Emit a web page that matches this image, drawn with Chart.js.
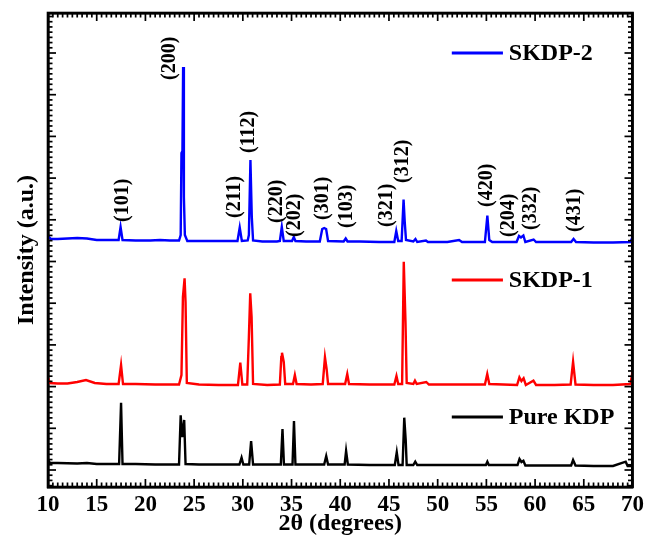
<!DOCTYPE html>
<html>
<head>
<meta charset="utf-8">
<script src="https://cdn.jsdelivr.net/npm/chart.js@4.4.1/dist/chart.umd.min.js"></script>
<style>
html,body{margin:0;padding:0;background:#fff;}
#c{display:block;}
</style>
</head>
<body>
<canvas id="c" width="648" height="539" style="width:648px;height:539px"></canvas>
<script>
// ---- Data (2θ in degrees, intensity in arbitrary units, stacked offsets as plotted) ----
const skdp2X = [10.0,10.3,11,12,13,14,15,16.5,17.25,17.45,17.65,19,20.5,21.5,22.5,23.45,23.62,23.7,23.8,23.87,23.95,24.05,24.3,25.5,27,28.5,29.45,29.68,29.9,30.5,30.62,30.78,30.92,31.05,32,33.5,33.8,34.0,34.2,35.05,35.23,35.4,36.5,37.9,38.15,38.35,38.55,38.75,40.35,40.56,40.75,42,44,45.55,45.75,45.95,46.3,46.5,46.62,46.75,47.5,47.72,47.9,48.8,49,51,52.2,52.5,54.85,55.1,55.3,55.6,58.1,58.35,58.55,58.8,59.0,59.85,60.1,62,63.7,63.95,64.2,66,68,69.8,70];
const skdp2Y = [251,248,248,248.5,249,248.5,247,247,247,260,247,246.5,246.5,247,246.5,246.5,252,334,336,420,290,252,246,246,246,246,246,259.5,246,246.5,252,327,270,246.5,245.5,245.5,246,260,246,246,250,246,245.5,245.5,258,259,258,246,245.5,248.5,245.5,245.5,245,245,256,246,246,287.5,265,247,245.5,248,245,246.5,245,245,247,245,245,271.5,247,245,245,251,249.5,251.5,245,247.5,245,245,245,248,245,244.5,244.5,245,250];

const skdp1X = [10.0,10.2,11,12,13,13.9,14.8,16,17.25,17.5,17.7,19,21,23.45,23.7,23.85,24.02,24.12,24.25,25.5,27.5,29.5,29.74,29.95,30.45,30.62,30.76,30.9,31.05,32.5,33.8,33.95,34.02,34.2,34.35,35.15,35.34,35.52,37,38.2,38.43,38.6,38.75,40.5,40.72,40.9,43,45.55,45.77,45.95,46.35,46.52,46.7,46.82,47.5,47.67,47.85,48.83,49.1,52,54.85,55.09,55.3,58.15,58.39,58.6,58.82,59.05,59.83,60.1,62,63.65,63.9,64.15,66,68,69.8,70];
const skdp1Y = [109,104,103.5,103.5,105,107,104,103,103,122,103,103,102.5,102.5,112,190,208.7,185,104,102.5,102,102,124.3,102.5,102.5,150,193.7,170,103,102,102.5,130,134.3,125,103,103,112,103,102.5,103,129.7,118,103,103,113,103,102.5,102.5,111,103,103,225.3,163.7,104,103,106.3,103,105,102.5,102.5,102.5,113,103,102,109.7,106,108.7,102,106.3,102,102,102.5,125.3,102.5,102,102,103,115.3];

const pureX = [10.0,10.2,11,13,14,15,17.3,17.5,17.65,19,21,23.45,23.62,23.78,23.98,24.12,25.5,27.5,29.65,29.87,30.05,30.65,30.85,31.05,32.5,33.9,34.07,34.22,35.1,35.25,35.4,37,38.35,38.56,38.75,40.45,40.6,40.78,43,45.6,45.8,45.98,46.4,46.57,46.72,46.82,47.5,47.7,47.9,50,54.95,55.1,55.25,58.2,58.4,58.6,58.8,59.0,61,63.7,63.9,64.15,66,68,69.3,69.5,70];
const pureY = [27,24,24,23.5,24,23,23,84.3,23,23,22.5,22.5,71.7,50,67,23,22.5,22.5,22.5,29.3,22.5,22.5,46,22.5,22.5,22.5,58,22.5,22.5,66,22.5,22.5,22.5,31,22.5,22.5,36,22.5,22,22,34.7,22,22,69.3,47,22,22,25.3,22,22,22,25.3,22,22,28,25,26.3,21.5,21.5,21.5,27,21.5,21,21,25.3,21,21];

const seriesNames = ['SKDP-2', 'SKDP-1', 'Pure KDP'];
const legendLevels = [434, 207, 70];          // intensity level of each legend entry

const hklText = ['(101)','(200)','(211)','(112)','(220)','(202)','(301)','(103)','(321)','(312)','(420)','(204)','(332)','(431)'];
const hklAt   = [17.72,22.51,29.18,30.65,33.52,35.33,38.24,40.64,44.8,46.44,55.06,57.28,59.61,64.05];
const hklBase = [265,407,269,334,264,250,267,259,260,304,280,250,257,255];

const xTickValues = [10,15,20,25,30,35,40,45,50,55,60,65,70];

// ---- helpers ----
const pts = (xs, ys) => xs.map((x, i) => ({x: x, y: ys[i]}));
const FONT = '"Liberation Serif", "Times New Roman", serif';
const colors = ['#0000ff', '#ff0000', '#000000'];

const framePlugin = {
  id: 'frameTicks',
  afterDraw(chart) {
    const ctx = chart.ctx;
    const x = chart.scales.x, y = chart.scales.y;
    const L0 = x.left, R0 = x.right, T0 = y.top, B0 = y.bottom;
    ctx.save();

    // peak labels
    ctx.fillStyle = '#000000';
    ctx.font = 'bold 20px ' + FONT;
    ctx.textAlign = 'left';
    ctx.textBaseline = 'middle';
    hklText.forEach((t, i) => {
      const px = x.getPixelForValue(hklAt[i]);
      const py = y.getPixelForValue(hklBase[i]);
      ctx.save();
      ctx.translate(px, py);
      ctx.rotate(-Math.PI / 2);
      ctx.fillText(t, 0, 0);
      ctx.restore();
    });

    // legend entries
    ctx.font = 'bold 24px ' + FONT;
    seriesNames.forEach((name, i) => {
      const py = y.getPixelForValue(legendLevels[i]);
      const x1 = x.getPixelForValue(51.45), x2 = x.getPixelForValue(56.7);
      ctx.fillStyle = colors[i];
      ctx.fillRect(x1, py - 1.5, x2 - x1, 3);
      ctx.fillStyle = '#000000';
      ctx.fillText(name, x.getPixelForValue(57.3), py + 1);
    });

    // inward ticks on all four sides
    ctx.fillStyle = '#000000';
    const tw = 1.7;
    for (let i = 0; i <= 120; i++) {
      const v = 10 + i * 0.5;
      const px = x.getPixelForValue(v);
      const len = (i % 10 === 0) ? 8 : 4.5;
      ctx.fillRect(px - tw / 2, B0 - len, tw, len);
      ctx.fillRect(px - tw / 2, T0, tw, len);
    }
    const yMajor0 = 17, yStep = 41.7, ySub = 8;
    for (let i = -3; i <= 90; i++) {
      const v = yMajor0 + i * yStep / ySub;
      if (v < y.min || v > y.max) continue;
      const py = y.getPixelForValue(v);
      const len = (((i % ySub) + ySub) % ySub === 0) ? 8 : 4.5;
      ctx.fillRect(L0, py - tw / 2, len, tw);
      ctx.fillRect(R0 - len, py - tw / 2, len, tw);
    }
    // frame
    ctx.strokeStyle = '#000000';
    ctx.lineWidth = 2.6;
    ctx.strokeRect(L0, T0, R0 - L0, B0 - T0);
    ctx.restore();
  }
};

const mk = (label, xs, ys, color) => ({
  label: label,
  data: pts(xs, ys),
  borderColor: color,
  backgroundColor: color,
  borderWidth: 2.4,
  pointRadius: 0,
  tension: 0,
  fill: false,
  xAxisID: 'x',
  yAxisID: 'y'
});

const frameBorder = { display: true, color: '#000', width: 2.6 };

new Chart(document.getElementById('c'), {
  type: 'line',
  data: {
    datasets: [
      mk(seriesNames[0], skdp2X, skdp2Y, colors[0]),
      mk(seriesNames[1], skdp1X, skdp1Y, colors[1]),
      mk(seriesNames[2], pureX, pureY, colors[2])
    ]
  },
  options: {
    responsive: false,
    animation: false,
    devicePixelRatio: 1,
    layout: { padding: { top: 13, right: 15, left: 0, bottom: 0 } },
    plugins: { legend: { display: false }, tooltip: { enabled: false } },
    scales: {
      x: {
        type: 'linear',
        position: 'bottom',
        min: 10, max: 70,
        afterFit(s) { s.height = 52; },
        afterBuildTicks(s) { s.ticks = xTickValues.map(v => ({value: v})); },
        grid: { display: false, drawTicks: false },
        border: frameBorder,
        ticks: { color: '#000', padding: 4, font: { family: FONT, size: 23, weight: 'bold' } },
        title: { display: true, text: '2θ (degrees)', color: '#000', padding: { top: 0, bottom: 1 },
                 font: { family: FONT, size: 24, weight: 'bold' } }
      },
      xTop: {
        type: 'linear',
        position: 'top',
        min: 10, max: 70,
        afterFit(s) { s.height = 0; },
        grid: { display: false, drawTicks: false },
        border: frameBorder,
        ticks: { display: false }
      },
      y: {
        type: 'linear',
        position: 'left',
        min: 0, max: 474,
        afterFit(s) { s.width = 48; },
        grid: { display: false, drawTicks: false },
        border: frameBorder,
        ticks: { display: false },
        title: { display: true, text: 'Intensity (a.u.)', color: '#000', padding: { top: 12, bottom: 0 },
                 font: { family: FONT, size: 24, weight: 'bold' } }
      },
      yRight: {
        type: 'linear',
        position: 'right',
        min: 0, max: 474,
        afterFit(s) { s.width = 0; },
        grid: { display: false, drawTicks: false },
        border: frameBorder,
        ticks: { display: false }
      }
    }
  },
  plugins: [framePlugin]
});
</script>
</body>
</html>
